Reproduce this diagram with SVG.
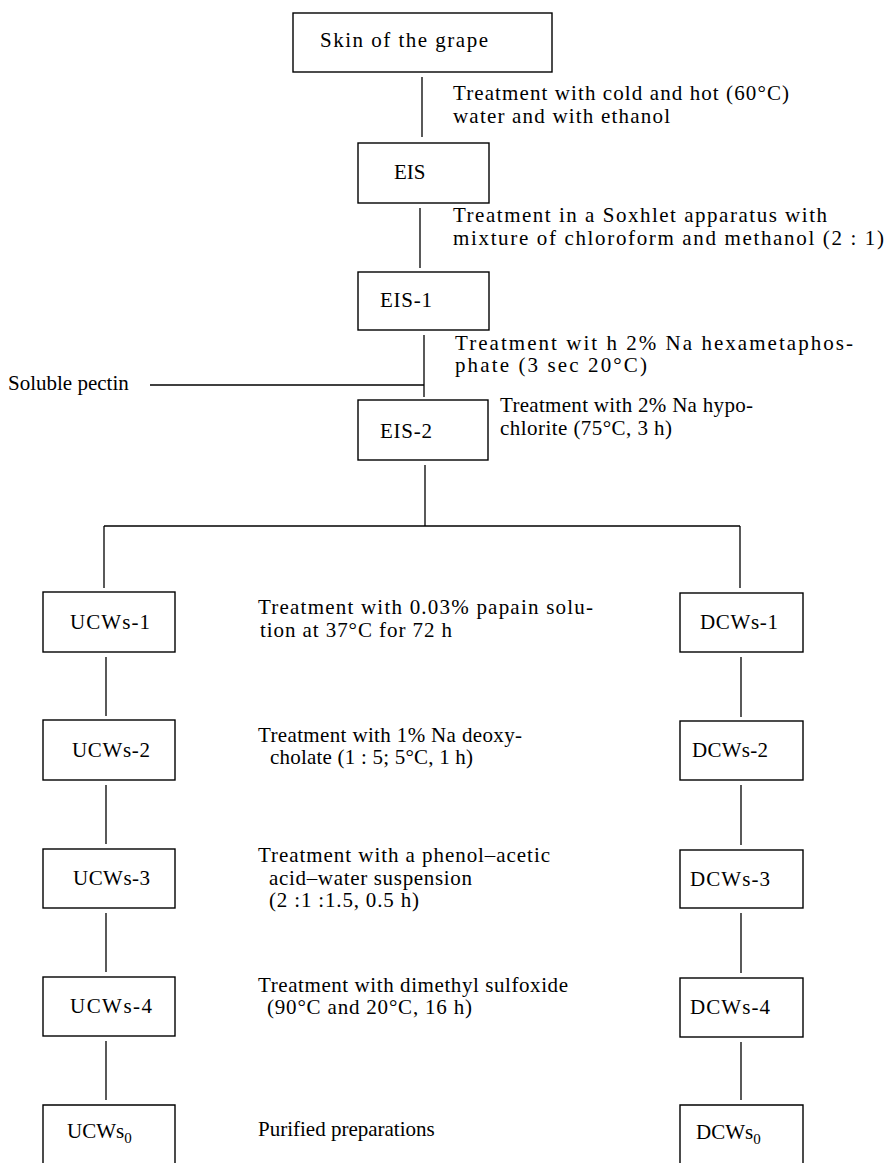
<svg xmlns="http://www.w3.org/2000/svg" width="889" height="1163" viewBox="0 0 889 1163">
<style>
text{font-family:"Liberation Serif","Times New Roman",serif;font-size:21px;fill:#000}
.box{fill:none;stroke:#000;stroke-width:1.4}
.ln{fill:none;stroke:#000;stroke-width:1.3}
</style>
<rect width="889" height="1163" fill="#fff"/>
<g id="connectors">
<line class="ln" x1="422" y1="77" x2="422" y2="137"/>
<line class="ln" x1="420" y1="208" x2="420" y2="268"/>
<line class="ln" x1="424" y1="335" x2="424" y2="397"/>
<line class="ln" x1="150" y1="385" x2="424" y2="385"/>
<line class="ln" x1="425" y1="465" x2="425" y2="526"/>
<line class="ln" x1="104" y1="526" x2="740" y2="526"/>
<line class="ln" x1="104" y1="526" x2="104" y2="588"/>
<line class="ln" x1="740" y1="526" x2="740" y2="588"/>
<line class="ln" x1="106" y1="657" x2="106" y2="716"/>
<line class="ln" x1="106" y1="785" x2="106" y2="844"/>
<line class="ln" x1="106" y1="913" x2="106" y2="972"/>
<line class="ln" x1="106" y1="1041" x2="106" y2="1100"/>
<line class="ln" x1="741" y1="657" x2="741" y2="717"/>
<line class="ln" x1="741" y1="785" x2="741" y2="845"/>
<line class="ln" x1="741" y1="913" x2="741" y2="973"/>
<line class="ln" x1="741" y1="1042" x2="741" y2="1100"/>
</g>
<g id="skin"><rect class="box" x="293" y="13" width="259" height="59"/><text x="320" y="47" font-size="22" textLength="168" lengthAdjust="spacing">Skin of the grape</text></g>
<g id="step1"><text x="453" y="100" textLength="336" lengthAdjust="spacing">Treatment with cold and hot (60°C)</text><text x="453" y="123" textLength="217" lengthAdjust="spacing">water and with ethanol</text></g>
<g id="eis"><rect class="box" x="358" y="143" width="131" height="60"/><text x="394" y="179">EIS</text></g>
<g id="step2"><text x="453" y="222" textLength="374" lengthAdjust="spacing">Treatment in a Soxhlet apparatus with</text><text x="453" y="245" textLength="431" lengthAdjust="spacing">mixture of chloroform and methanol (2 : 1)</text></g>
<g id="eis1"><rect class="box" x="358" y="272" width="131" height="58"/><text x="380" y="307" textLength="52" lengthAdjust="spacing">EIS-1</text></g>
<g id="step3"><text x="455" y="350" textLength="398" lengthAdjust="spacing">Treatment wit h 2% Na hexametaphos-</text><text x="455" y="372" textLength="192" lengthAdjust="spacing">phate (3 sec  20°C)</text></g>
<g id="pectin"><text x="8" y="390">Soluble pectin</text></g>
<g id="eis2"><rect class="box" x="358" y="400" width="130" height="60"/><text x="380" y="438" textLength="52" lengthAdjust="spacing">EIS-2</text></g>
<g id="step4"><text x="500" y="412" textLength="253" lengthAdjust="spacing">Treatment with 2% Na hypo-</text><text x="500" y="435" textLength="172" lengthAdjust="spacing">chlorite (75°C, 3 h)</text></g>
<g id="ucws1"><rect class="box" x="43" y="592" width="132" height="60"/><text x="70" y="629" textLength="80" lengthAdjust="spacing">UCWs-1</text></g>
<g id="dcws1"><rect class="box" x="680" y="593" width="123" height="59"/><text x="700" y="629" textLength="78" lengthAdjust="spacing">DCWs-1</text></g>
<g id="step5"><text x="258" y="614" textLength="335" lengthAdjust="spacing">Treatment with 0.03% papain solu-</text><text x="260" y="637" textLength="192" lengthAdjust="spacing">tion at 37°C for 72 h</text></g>
<g id="ucws2"><rect class="box" x="43" y="720" width="132" height="60"/><text x="72" y="757" textLength="78" lengthAdjust="spacing">UCWs-2</text></g>
<g id="dcws2"><rect class="box" x="680" y="721" width="123" height="59"/><text x="692" y="757" textLength="76" lengthAdjust="spacing">DCWs-2</text></g>
<g id="step6"><text x="258" y="742" textLength="264" lengthAdjust="spacing">Treatment with 1% Na deoxy-</text><text x="270" y="764" textLength="203" lengthAdjust="spacing">cholate (1 : 5; 5°C, 1 h)</text></g>
<g id="ucws3"><rect class="box" x="43" y="849" width="132" height="59"/><text x="73" y="885" textLength="77" lengthAdjust="spacing">UCWs-3</text></g>
<g id="dcws3"><rect class="box" x="680" y="850" width="123" height="58"/><text x="690" y="886" textLength="80" lengthAdjust="spacing">DCWs-3</text></g>
<g id="step7"><text x="258" y="862" textLength="292" lengthAdjust="spacing">Treatment with a phenol–acetic</text><text x="269" y="885" textLength="203" lengthAdjust="spacing">acid–water suspension</text><text x="269" y="907" textLength="150" lengthAdjust="spacing">(2 :1 :1.5, 0.5 h)</text></g>
<g id="ucws4"><rect class="box" x="43" y="977" width="132" height="59"/><text x="70" y="1013" textLength="82" lengthAdjust="spacing">UCWs-4</text></g>
<g id="dcws4"><rect class="box" x="680" y="978" width="123" height="59"/><text x="690" y="1014" textLength="80" lengthAdjust="spacing">DCWs-4</text></g>
<g id="step8"><text x="258" y="992" textLength="310" lengthAdjust="spacing">Treatment with dimethyl sulfoxide</text><text x="267" y="1014" textLength="205" lengthAdjust="spacing">(90°C and 20°C, 16 h)</text></g>
<g id="ucws0"><path class="box" d="M43,1163 V1105 H175 V1163"/><text x="67" y="1138">UCWs<tspan font-size="15" dy="5">0</tspan></text></g>
<g id="dcws0"><path class="box" d="M680,1163 V1105 H803 V1163"/><text x="696" y="1139">DCWs<tspan font-size="15" dy="5">0</tspan></text></g>
<g id="step9"><text x="258" y="1136">Purified preparations</text></g>
</svg>
